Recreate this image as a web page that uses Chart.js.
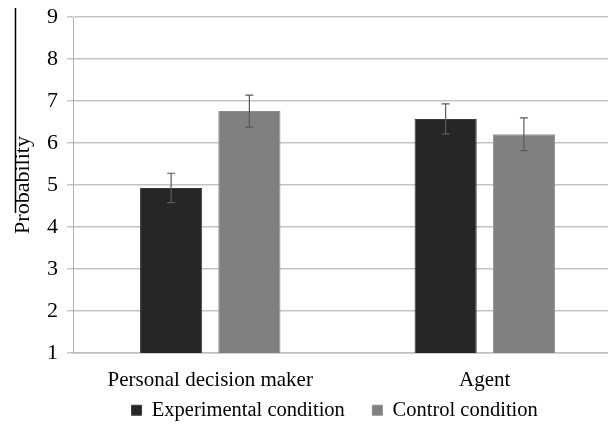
<!DOCTYPE html>
<html>
<head>
<meta charset="utf-8">
<script src="https://cdn.jsdelivr.net/npm/chart.js@4/dist/chart.umd.min.js"></script>
<style>
  html, body { margin: 0; padding: 0; background: #fff; overflow: hidden; }
  #wrap { width: 622px; height: 425px; position: relative; }
</style>
</head>
<body>
<div id="wrap"><canvas id="chart"></canvas></div>
<script>
var categories = ['Personal decision maker', 'Agent'];
var seriesNames = ['Experimental condition', 'Control condition'];
var experimental = [4.93, 6.57];
var control = [6.76, 6.21];
var experimentalErr = [0.35, 0.36];
var controlErr = [0.38, 0.39];
var yTicks = [1, 2, 3, 4, 5, 6, 7, 8, 9];

var serif = '"Liberation Serif", "Times New Roman", serif';

// error bars drawn through the y scale
var errorBars = {
    id: 'errorBars',
    afterDatasetsDraw: function(chart){
        var ctx = chart.ctx;
        var y = chart.scales.y;
        var errs = [experimentalErr, controlErr];
        ctx.save();
        ctx.strokeStyle = '#5a5a5a';
        ctx.lineWidth = 1.2;
        chart.data.datasets.forEach(function(ds, di){
            var meta = chart.getDatasetMeta(di);
            meta.data.forEach(function(bar, i){
                var v = ds.data[i], e = errs[di][i];
                var top = y.getPixelForValue(v + e);
                var bot = y.getPixelForValue(v - e);
                ctx.beginPath();
                ctx.moveTo(bar.x, top); ctx.lineTo(bar.x, bot);
                ctx.moveTo(bar.x - 4, top); ctx.lineTo(bar.x + 4, top);
                ctx.moveTo(bar.x - 4, bot); ctx.lineTo(bar.x + 4, bot);
                ctx.stroke();
            });
        });
        ctx.restore();
    }
};

// thin page-edge line seen at the left of the scan
var edgeLine = {
    id: 'edgeLine',
    afterDraw: function(chart){
        var ctx = chart.ctx;
        ctx.save();
        ctx.strokeStyle = '#000';
        ctx.lineWidth = 1.5;
        ctx.beginPath();
        ctx.moveTo(15.5, 8);
        ctx.lineTo(15.5, 213);
        ctx.stroke();
        ctx.restore();
    }
};

new Chart(document.getElementById('chart'), {
    type: 'bar',
    data: {
        labels: categories,
        datasets: [
            {
                label: seriesNames[0],
                data: experimental,
                backgroundColor: '#262626',
                borderColor: '#3a3a3a',
                borderWidth: 1,
                categoryPercentage: 0.57,
                barPercentage: 0.795
            },
            {
                label: seriesNames[1],
                data: control,
                backgroundColor: '#808080',
                borderColor: '#8c8c8c',
                borderWidth: 1,
                categoryPercentage: 0.57,
                barPercentage: 0.795
            }
        ]
    },
    options: {
        responsive: true,
        maintainAspectRatio: false,
        animation: false,
        layout: { padding: { top: 17, left: 0, right: 0, bottom: 0 } },
        plugins: {
            tooltip: { enabled: false },
            legend: {
                position: 'bottom',
                fullSize: false,
                maxHeight: 32,
                labels: {
                    font: { family: serif, size: 20.5 },
                    color: '#000',
                    boxWidth: 10,
                    boxHeight: 10,
                    padding: 7,
                    generateLabels: function(chart){
                        var items = Chart.defaults.plugins.legend.labels.generateLabels(chart);
                        // wider gap after the first entry, and nudge the row left
                        items[0].text = items[0].text + '    ';
                        items[1].text = items[1].text + '     ';
                        return items;
                    }
                }
            }
        },
        scales: {
            x: {
                afterFit: function(axis){ axis.height = 40; },
                grid: { display: false, drawTicks: false },
                border: { display: true, color: '#bfbfbf', width: 1.5 },
                ticks: {
                    font: { family: serif, size: 21 },
                    color: '#000',
                    padding: 15
                }
            },
            y: {
                min: 1,
                max: 9,
                afterBuildTicks: function(axis){
                    axis.ticks = yTicks.map(function(v){ return { value: v }; });
                },
                afterFit: function(axis){
                    axis.width = 73;
                    axis.paddingTop = 0;
                    axis.paddingBottom = 0;
                },
                grid: { color: '#c4c4c4', lineWidth: 1.5, tickLength: 6 },
                border: { display: true, color: '#b0b0b0', width: 1 },
                ticks: {
                    font: { family: serif, size: 22 },
                    color: '#000',
                    padding: 9
                },
                title: {
                    display: true,
                    text: 'Probability',
                    font: { family: serif, size: 22 },
                    color: '#000',
                    padding: { top: 10, bottom: 0 }
                }
            }
        }
    },
    plugins: [errorBars, edgeLine]
});
</script>
</body>
</html>
